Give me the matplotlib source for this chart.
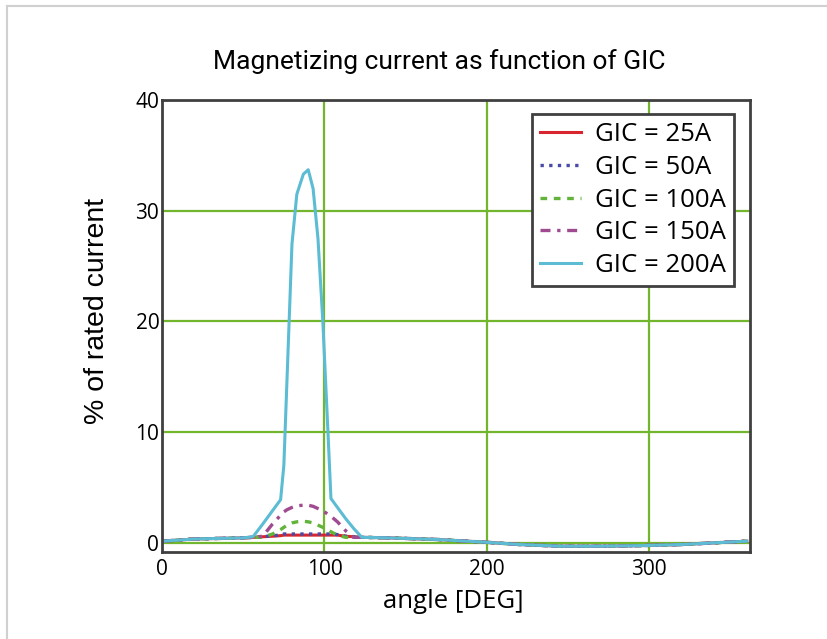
import matplotlib.pyplot as plt
from matplotlib.lines import Line2D

# angle grid (deg) shared by all series
angles = [0, 10, 20, 35, 50, 56, 62, 68, 73, 75, 77, 80, 83, 87, 90, 93, 96, 99,
          102, 104, 108, 113, 118, 123, 140, 170, 200, 220, 245, 270, 295, 320, 340, 360]

gic25 = [0.15, 0.25, 0.35, 0.4, 0.45, 0.5, 0.55, 0.6, 0.65, 0.7, 0.7, 0.7, 0.7, 0.7, 0.7, 0.7, 0.7, 0.7,
         0.7, 0.7, 0.7, 0.6, 0.55, 0.5, 0.45, 0.3, 0.05, -0.15, -0.3, -0.3, -0.25, -0.15, 0.0, 0.15]
gic50 = [0.15, 0.25, 0.35, 0.4, 0.45, 0.5, 0.55, 0.65, 0.7, 0.8, 0.8, 0.8, 0.8, 0.8, 0.8, 0.8, 0.8, 0.8,
         0.8, 0.8, 0.75, 0.6, 0.55, 0.5, 0.45, 0.3, 0.05, -0.15, -0.3, -0.3, -0.25, -0.15, 0.0, 0.15]
gic100 = [0.15, 0.25, 0.35, 0.4, 0.45, 0.5, 0.5, 0.8, 1.2, 1.4, 1.6, 1.8, 1.9, 1.95, 1.9, 1.8, 1.6, 1.4,
          1.2, 1.0, 0.7, 0.5, 0.5, 0.5, 0.45, 0.3, 0.05, -0.15, -0.3, -0.3, -0.25, -0.15, 0.0, 0.15]
gic150 = [0.15, 0.25, 0.35, 0.4, 0.45, 0.5, 0.6, 1.7, 2.5, 2.8, 3.0, 3.2, 3.35, 3.4, 3.4, 3.3, 3.1, 2.9,
          2.6, 2.4, 1.9, 1.1, 0.5, 0.5, 0.45, 0.3, 0.05, -0.15, -0.3, -0.3, -0.25, -0.15, 0.0, 0.15]
gic200 = [0.15, 0.25, 0.35, 0.4, 0.45, 0.55, 1.7, 2.9, 3.9, 7.0, 15.0, 27.0, 31.5, 33.3, 33.7, 32.0, 27.5, 20.0,
          10.5, 4.0, 3.2, 2.2, 1.3, 0.5, 0.45, 0.3, 0.05, -0.15, -0.3, -0.3, -0.25, -0.15, 0.0, 0.15]

labels = ['GIC = 25A', 'GIC = 50A', 'GIC = 100A', 'GIC = 150A', 'GIC = 200A']
xticks = [0, 100, 200, 300]
yticks = [0, 10, 20, 30, 40]

tick_font = 'Open Sans'

fig = plt.figure(figsize=(8.28, 6.39), dpi=100)
ax = fig.add_axes([0.1957, 0.1366, 0.7101, 0.7069])

ax.plot(angles, gic25, color='#d9262e', lw=2.2, ls='-', label=labels[0])
ax.plot(angles, gic50, color='#4a4aa8', lw=2.4, ls=(0, (1, 1.6)), label=labels[1])
ax.plot(angles, gic100, color='#62b33a', lw=2.4, ls=(0, (2, 2)), label=labels[2])
ax.plot(angles, gic150, color='#a04a90', lw=2.4, ls=(0, (3, 2, 1, 2)), label=labels[3])
ax.plot(angles, gic200, color='#5bbcd4', lw=2.2, ls='-', label=labels[4])

ax.set_xlim(0, 362)
ax.set_ylim(-0.8, 40)
ax.set_xticks(xticks)
ax.set_yticks(yticks)
ax.grid(True, color='#72b62e', lw=1.6)
ax.set_axisbelow(True)
ax.tick_params(length=0, labelsize=15)
ax.tick_params(axis='x', pad=5)
ax.tick_params(axis='y', pad=2)
for t in ax.get_xticklabels() + ax.get_yticklabels():
    t.set_fontfamily(tick_font)
for s in ax.spines.values():
    s.set_color('#404040')
    s.set_linewidth(2)

leg = ax.legend(loc='upper right', bbox_to_anchor=(0.972, 0.968),
                prop={'family': tick_font, 'size': 18.5}, handlelength=1.6,
                handletextpad=0.55, labelspacing=0.3, borderpad=0.3, borderaxespad=0,
                fancybox=False, framealpha=1)
leg.get_frame().set_edgecolor('#404040')
leg.get_frame().set_linewidth(2)

fig.text(0.531, 0.904, 'Magnetizing current as function of GIC', ha='center', va='center',
         fontsize=19, family='Roboto')
fig.text(0.547, 0.058, 'angle [DEG]', ha='center', va='center', fontsize=18.5, family=tick_font)
fig.text(0.117, 0.513, '% of rated current', ha='center', va='center', rotation=90,
         fontsize=20.5, family='Liberation Sans')

# light frame on top/left edges
fig.add_artist(Line2D([0.008, 1.0], [0.991, 0.991], transform=fig.transFigure, color='#d0d0d0', lw=1.5))
fig.add_artist(Line2D([0.008, 0.008], [0.0, 0.991], transform=fig.transFigure, color='#d0d0d0', lw=1.5))

fig.savefig('out.png', dpi=100)
